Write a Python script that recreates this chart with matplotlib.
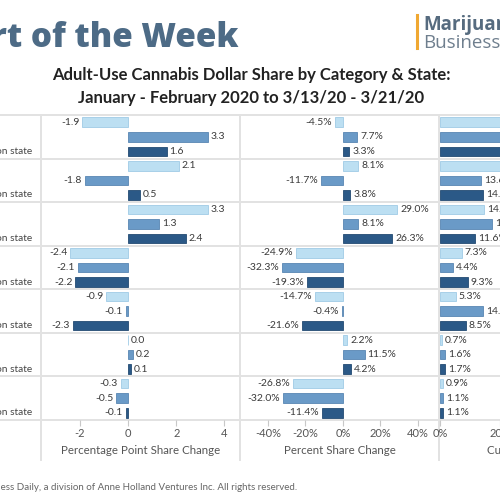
import matplotlib
matplotlib.use("Agg")
import matplotlib.pyplot as plt
from matplotlib.lines import Line2D
import numpy as np

# ---------------- data ----------------
categories = ["Flower", "Vape", "Pre-rolls", "Edibles", "Concentrates", "Topicals", "Other"]
series_names = ["All states", "Stay-at-home state", "Non-stay-at-home region state"]

pp_change = [[-1.9, 3.3, 1.6],
             [2.1, -1.8, 0.5],
             [3.3, 1.3, 2.4],
             [-2.4, -2.1, -2.2],
             [-0.9, -0.1, -2.3],
             [0.0, 0.2, 0.1],
             [-0.3, -0.5, -0.1]]

pct_change = [[-4.5, 7.7, 3.3],
              [8.1, -11.7, 3.8],
              [29.0, 8.1, 26.3],
              [-24.9, -32.3, -19.3],
              [-14.7, -0.4, -21.6],
              [2.2, 11.5, 4.2],
              [-26.8, -32.0, -11.4]]

current_share = [[40.3, 46.2, 50.1],
                 [28.0, 13.6, 14.3],
                 [14.7, 17.3, 11.6],
                 [7.3, 4.4, 9.3],
                 [5.3, 14.4, 8.5],
                 [0.7, 1.6, 1.7],
                 [0.9, 1.1, 1.1]]

pp_ticks = [-2, 0, 2, 4]
pct_ticks = [-40, -20, 0, 20, 40]
share_ticks = [0, 20, 40]

# ---------------- style ----------------
colors = ["#bcdff2", "#6a9ac7", "#2b5987"]
edges = ["#9fcbe6", "#5886b3", "#234b73"]
grid_c = "#e2e2e2"
W = H = 500.0

plt.rcParams['font.family'] = ['Lato', 'DejaVu Sans']
fig = plt.figure(figsize=(5, 5), dpi=100)
fig.patch.set_facecolor("white")

def fx(px):
    return px / W

def fy(py):
    return 1 - py / H

top_px, bot_px = 115.0, 420.0
n = len(categories)
grp = (bot_px - top_px) / n

panels = [
    dict(data=pp_change, left=41, right=240, xlim=(-3.62, 4.65), ticks=pp_ticks,
         ticklab=[str(t) for t in pp_ticks], fmt="{:.1f}", label="Percentage Point Share Change",
         off=0.12),
    dict(data=pct_change, left=240, right=439, xlim=(-54.9, 51.2), ticks=pct_ticks,
         ticklab=[f"{t}%" for t in pct_ticks], fmt="{:.1f}%", label="Percent Share Change",
         off=1.6),
    dict(data=current_share, left=440, right=605, xlim=(0, 55), ticks=share_ticks,
         ticklab=[f"{t}%" for t in share_ticks], fmt="{:.1f}%", label="Current Share",
         off=1.0),
]

for p in panels:
    ax = fig.add_axes([fx(p['left']), fy(bot_px), fx(p['right'] - p['left']), (bot_px - top_px) / H])
    ax.set_xlim(*p['xlim'])
    ax.set_ylim(n - 0.5, -0.5)
    for k in range(3):
        ys = np.arange(n) + (k - 1) / 3.0
        vals = [row[k] for row in p['data']]
        ax.barh(ys, vals, height=0.22, color=colors[k], edgecolor=edges[k], linewidth=0.6)
        for y, v in zip(ys, vals):
            if v < 0:
                ax.text(v - p['off'], y, p['fmt'].format(v), ha='right', va='center',
                        fontsize=7.5, color="#3a3a3a")
            else:
                ax.text(v + p['off'], y, p['fmt'].format(v), ha='left', va='center',
                        fontsize=7.5, color="#3a3a3a")
    for s in ax.spines.values():
        s.set_visible(False)
    ax.set_yticks([])
    ax.set_xticks(p['ticks'])
    ax.set_xticklabels(p['ticklab'])
    ax.tick_params(axis='x', length=4, color="#c8c8c8", labelsize=8, labelcolor="#555555", pad=2)
    ax.set_xlabel(p['label'], fontsize=8.3, color="#555555", labelpad=4)
    ax.patch.set_alpha(0)

# horizontal group separators across the full width
for j in range(n + 1):
    y = fy(top_px + grp * j)
    fig.add_artist(Line2D([0, 1], [y, y], color=grid_c, lw=1.4, zorder=0))

# vertical panel dividers
for xp in [41, 240, 439]:
    fig.add_artist(Line2D([fx(xp), fx(xp)], [fy(top_px), fy(460)], color=grid_c, lw=1.4, zorder=0))

# row labels (mostly cropped at left edge)
for i in range(n):
    y = fy(top_px + grp * i + grp * 5 / 6)
    fig.text(fx(32), y, series_names[2], ha='right', va='center', fontsize=7.3, color="#444444")

# title
fig.text(fx(238), fy(47), "Chart of the Week", ha='right', va='baseline', fontsize=24,
         fontweight='heavy', color="#4d6b86", family=['Open Sans', 'DejaVu Sans'])

# logo
fig.add_artist(Line2D([fx(417), fx(417)], [fy(15), fy(48)], color="#f0a832", lw=2.2))
fig.text(fx(423), fy(30), "Marijuana", ha='left', va='baseline', fontsize=13.5,
         color="#566b7f", fontweight='bold', family=['Open Sans', 'DejaVu Sans'])
fig.text(fx(423), fy(48), "Business", ha='left', va='baseline', fontsize=13.5,
         color="#6f7f8e", family=['Open Sans', 'DejaVu Sans'])

# subtitle
fig.text(0.502, fy(75), "Adult-Use Cannabis Dollar Share by Category & State:", ha='center',
         va='center', fontsize=12, fontweight='bold', color="#222222")
fig.text(0.502, fy(98), "January - February 2020 to 3/13/20 - 3/21/20", ha='center',
         va='center', fontsize=12, fontweight='bold', color="#222222")

# footer
fig.text(fx(297), fy(487), "\u00a9 2020 Marijuana Business Daily, a division of Anne Holland Ventures Inc. All rights reserved.",
         ha='right', va='center', fontsize=7, color="#666666")

fig.savefig("out.png", dpi=100)
